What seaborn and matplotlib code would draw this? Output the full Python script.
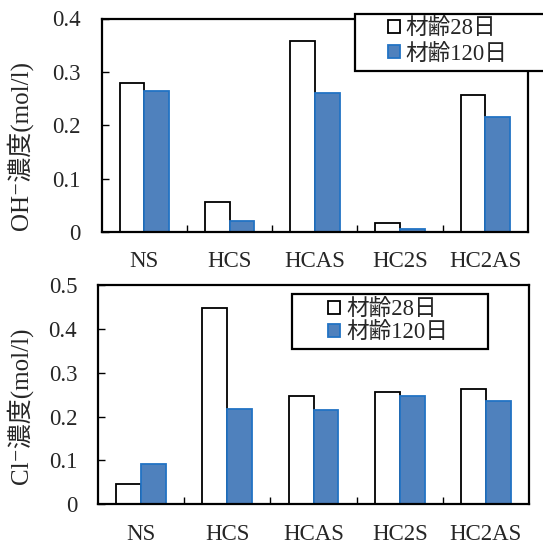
import numpy as np
import pandas as pd
import matplotlib
matplotlib.use("Agg")
import matplotlib.pyplot as plt
import seaborn as sns
from matplotlib.patches import Patch, Rectangle

categories = ["NS", "HCS", "HCAS", "HC2S", "HC2AS"]
series_names = ["材齢28日", "材齢120日"]
oh_28 = [0.280, 0.056, 0.358, 0.016, 0.257]
oh_120 = [0.265, 0.020, 0.260, 0.006, 0.216]
cl_28 = [0.046, 0.447, 0.246, 0.257, 0.262]
cl_120 = [0.091, 0.218, 0.215, 0.247, 0.236]
oh_yticks = [0, 0.1, 0.2, 0.3, 0.4]
oh_yticklabels = ["0", "0.1", "0.2", "0.3", "0.4"]
cl_yticks = [0, 0.1, 0.2, 0.3, 0.4, 0.5]
cl_yticklabels = ["0", "0.1", "0.2", "0.3", "0.4", "0.5"]
oh_ylabel = "OH⁻濃度(mol/l)"
cl_ylabel = "Cl⁻濃度(mol/l)"

sns.set_theme(style="white")
FAM = ["Liberation Serif", "Noto Sans CJK JP", "DejaVu Sans"]
plt.rcParams["font.family"] = FAM

FILL = ["white", "#4F81BD"]
EDGE = ["black", "#2273C4"]

W, H = 543, 544


def fx(px):
    return px / W


def fy(py):
    return 1 - py / H


def make_df(v28, v120):
    return pd.DataFrame({
        "cat": categories * 2,
        "series": [series_names[0]] * 5 + [series_names[1]] * 5,
        "val": list(v28) + list(v120),
    })


fig = plt.figure(figsize=(5.43, 5.44), dpi=100)
ax1 = fig.add_axes([fx(101.7), fy(232), fx(528 - 101.7), (232 - 18.5) / H])
ax2 = fig.add_axes([fx(98), fy(504.3), fx(529 - 98), (504.3 - 285) / H])


def draw(ax, v28, v120, yticks, yticklabels, ylim, ylabel, lab_xy,
         box, leg_anchor, labelspacing):
    df = make_df(v28, v120)
    sns.barplot(data=df, x="cat", y="val", hue="series", order=categories,
                hue_order=series_names, palette=FILL, width=0.58,
                saturation=1, ax=ax, legend=False)
    for ci, cont in enumerate(ax.containers):
        for p in cont:
            p.set_facecolor(FILL[ci])
            p.set_edgecolor(EDGE[ci])
            p.set_linewidth(1.3)
    ax.set_xlim(-0.5, 4.5)
    ax.set_ylim(*ylim)
    ax.set_yticks(yticks)
    ax.set_yticklabels(yticklabels)
    ax.set_xticks(range(5))
    ax.set_xticklabels(categories)
    ax.set_xticks([0.5, 1.5, 2.5, 3.5], minor=True)
    ax.tick_params(axis="x", which="major", length=0, pad=14, labelsize=16.5)
    ax.tick_params(axis="x", which="minor", direction="in", length=5,
                   width=1, color="black", bottom=True)
    ax.tick_params(axis="y", which="major", direction="in", length=5,
                   width=1, color="black", pad=15, labelsize=16.5, left=True)
    for lab in ax.get_xticklabels() + ax.get_yticklabels():
        lab.set_fontfamily(FAM)
    ax.set_xlabel("")
    ax.set_ylabel(ylabel, fontsize=18, family=FAM)
    ax.yaxis.set_label_coords(*lab_xy)
    for s in ax.spines.values():
        s.set_visible(True)
        s.set_color("black")
        s.set_linewidth(1.6)
    ax.grid(False)
    # legend frame
    x0, y0, x1, y1 = box
    rect = Rectangle((fx(x0), fy(y1)), fx(x1 - x0), (y1 - y0) / H,
                     transform=fig.transFigure, facecolor="white",
                     edgecolor="black", linewidth=1.6, zorder=9,
                     clip_on=False)
    fig.add_artist(rect)
    handles = [Patch(facecolor=FILL[i], edgecolor=EDGE[i], linewidth=1.3,
                     label=series_names[i]) for i in range(2)]
    leg = fig.legend(handles=handles, loc="center left",
                     bbox_to_anchor=(fx(leg_anchor[0]), fy(leg_anchor[1])),
                     bbox_transform=fig.transFigure, frameon=False,
                     borderpad=0, handlelength=0.53, handleheight=0.53,
                     handletextpad=0.26, labelspacing=labelspacing,
                     borderaxespad=0, prop={"family": FAM, "size": 16.3})
    leg.set_zorder(10)


draw(ax1, oh_28, oh_120, oh_yticks, oh_yticklabels, (0, 0.4), oh_ylabel,
     (-0.161, 0.403), (355, 13.5, 570, 70.5), (388, 41.5), 0.2)
draw(ax2, cl_28, cl_120, cl_yticks, cl_yticklabels, (0, 0.5), cl_ylabel,
     (-0.151, 0.448), (291.7, 294, 488, 349), (328.3, 321.3), 0.08)

fig.savefig("out.png", dpi=100)
